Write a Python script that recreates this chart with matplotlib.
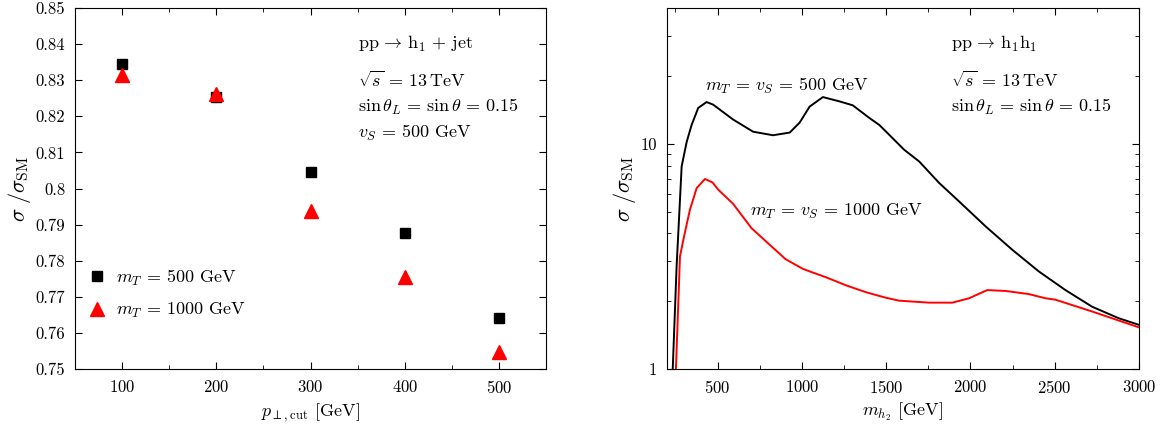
import matplotlib
matplotlib.use("Agg")
import matplotlib.pyplot as plt
from matplotlib.ticker import FixedLocator, MultipleLocator, LogLocator, NullFormatter

plt.rcParams['font.family'] = 'cmr10'
plt.rcParams['mathtext.fontset'] = 'cm'
plt.rcParams['axes.formatter.use_mathtext'] = True
plt.rcParams['font.size'] = 12

# left panel: pp -> h1 + jet
pt_cut = [100, 200, 300, 400, 500]
ratio_mT500 = [0.8345, 0.8253, 0.8045, 0.7876, 0.7641]
ratio_mT1000 = [0.8315, 0.8263, 0.7938, 0.7756, 0.7547]

# right panel: pp -> h1 h1
mh2_500 = [234, 257, 287, 317, 346, 385, 435, 474, 592, 711, 829, 928, 987,
           1046, 1125, 1224, 1302, 1401, 1460, 1500, 1607, 1696, 1815, 1933,
           2091, 2249, 2406, 2564, 2722, 2880, 3000]
ratio_500 = [1.0, 2.85, 7.93, 10.2, 12.1, 14.4, 15.3, 14.9, 12.8, 11.3, 10.9,
             11.2, 12.4, 14.6, 16.1, 15.4, 14.8, 13.0, 12.1, 11.3, 9.4, 8.34,
             6.69, 5.54, 4.29, 3.38, 2.71, 2.24, 1.89, 1.68, 1.57]
mh2_1000 = [253, 277, 301, 336, 376, 425, 470, 504, 592, 701, 809, 904, 1007,
            1145, 1263, 1382, 1500, 1578, 1755, 1893, 1992, 2100, 2209, 2347,
            2446, 2505, 2722, 3000]
ratio_1000 = [1.0, 3.16, 3.87, 5.09, 6.35, 6.97, 6.73, 6.25, 5.41, 4.22, 3.56,
              3.07, 2.78, 2.55, 2.35, 2.19, 2.07, 2.01, 1.97, 1.97, 2.06, 2.24,
              2.22, 2.15, 2.06, 2.03, 1.80, 1.53]

fig = plt.figure(figsize=(11.61, 4.26), dpi=100)
ax1 = fig.add_axes([0.0646, 0.1338, 0.4057, 0.8474])
ax2 = fig.add_axes([0.5745, 0.1338, 0.4065, 0.8474])

for ax in (ax1, ax2):
    ax.tick_params(which='both', direction='in', top=True, right=True)
    ax.tick_params(which='major', length=5, labelsize=12, pad=7)
    ax.tick_params(which='minor', length=3)

fs = 13

# left
ax1.plot(pt_cut, ratio_mT500, 's', color='black', ms=7.5,
         label=r'$m_T\,=\,500$ GeV')
ax1.plot(pt_cut, ratio_mT1000, '^', color='red', ms=10,
         label=r'$m_T\,=\,1000$ GeV')
ax1.set_xlim(50, 550)
ax1.set_ylim(0.75, 0.85)
ax1.xaxis.set_major_locator(FixedLocator([100, 200, 300, 400, 500]))
ax1.xaxis.set_minor_locator(MultipleLocator(50))
yt = [0.75 + 0.01 * i for i in range(11)]
ax1.set_yticks(yt)
ax1.set_yticklabels(['0.75', '0.76', '0.77', '0.78', '0.79', '0.8',
                     '0.81', '0.82', '0.83', '0.84', '0.85'])
ax1.set_xlabel(r'$p_{\perp,\rm cut}$ [GeV]', fontsize=13)
ax1.set_ylabel(r'$\sigma\;/\sigma_{\rm SM}$', fontsize=16, labelpad=2)
ax1.legend(loc='lower left', bbox_to_anchor=(0.026, 0.135), frameon=False,
           borderaxespad=0, borderpad=0, handlelength=1.05,
           handletextpad=0.55, labelspacing=0.75, fontsize=fs)
ax1.text(0.601, 0.900, r'$\mathrm{pp}\,\rightarrow\,\mathrm{h}_1\,+\,\mathrm{jet}$',
         transform=ax1.transAxes, va='center', fontsize=fs)
ax1.text(0.601, 0.801, r'$\sqrt{s}\,=\,13\,\mathrm{TeV}$',
         transform=ax1.transAxes, va='center', fontsize=fs)
ax1.text(0.601, 0.726, r'$\sin\theta_L\,=\,\sin\theta\,=\,0.15$',
         transform=ax1.transAxes, va='center', fontsize=fs)
ax1.text(0.601, 0.655, r'$v_S\,=\,500$ GeV',
         transform=ax1.transAxes, va='center', fontsize=fs)

# right
ax2.plot(mh2_500, ratio_500, color='black', lw=1.4)
ax2.plot(mh2_1000, ratio_1000, color='red', lw=1.4)
ax2.set_yscale('log')
ax2.set_xlim(200, 3000)
ax2.set_ylim(1, 40)
ax2.set_xticks([500, 1000, 1500, 2000, 2500, 3000])
ax2.xaxis.set_minor_locator(MultipleLocator(250))
ax2.set_yticks([1, 10])
ax2.set_yticklabels(['1', '10'])
ax2.yaxis.set_minor_locator(LogLocator(base=10, subs=range(2, 10)))
ax2.yaxis.set_minor_formatter(NullFormatter())
ax2.set_xlabel(r'$m_{h_2}$ [GeV]', fontsize=13)
ax2.set_ylabel(r'$\sigma\;/\sigma_{\rm SM}$', fontsize=16, labelpad=2)
ax2.text(0.601, 0.900, r'$\mathrm{pp}\,\rightarrow\,\mathrm{h}_1\mathrm{h}_1$',
         transform=ax2.transAxes, va='center', fontsize=fs)
ax2.text(0.601, 0.801, r'$\sqrt{s}\,=\,13\,\mathrm{TeV}$',
         transform=ax2.transAxes, va='center', fontsize=fs)
ax2.text(0.601, 0.725, r'$\sin\theta_L\,=\,\sin\theta\,=\,0.15$',
         transform=ax2.transAxes, va='center', fontsize=fs)
ax2.text(0.080, 0.784, r'$m_T\,=\,v_S\,=\,500$ GeV',
         transform=ax2.transAxes, va='center', fontsize=fs)
ax2.text(0.176, 0.436, r'$m_T\,=\,v_S\,=\,1000$ GeV',
         transform=ax2.transAxes, va='center', fontsize=fs)

fig.savefig('out.png', dpi=100)
